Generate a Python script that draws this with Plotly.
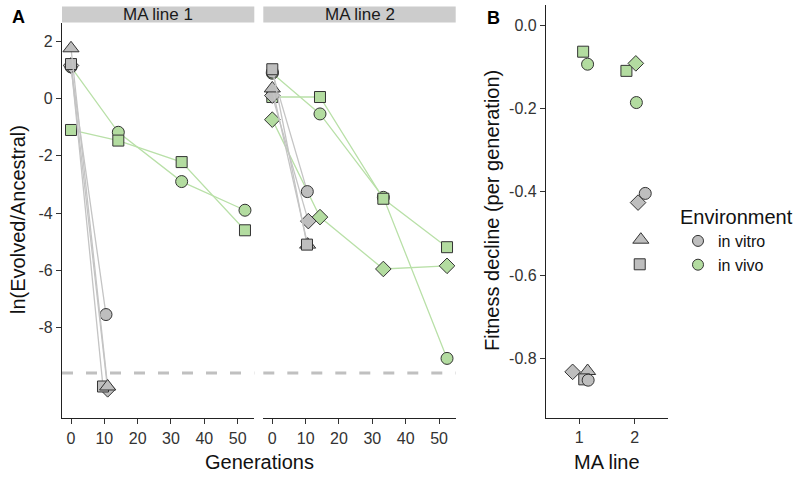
import plotly.graph_objects as go

# ---- data ----
# Panel A: ln(Evolved/Ancestral) by generation, one lineage per shape
vitro1_circle_gen = [0, 10.5]
vitro1_circle_val = [1.12, -7.54]
vitro1_square_gen = [0, 9.6]
vitro1_square_val = [1.2, -10.05]
vitro1_triangle_gen = [0, 11]
vitro1_triangle_val = [1.75, -10.05]
vitro1_diamond_gen = [0, 11]
vitro1_diamond_val = [1.15, -10.15]

vitro2_circle_gen = [0, 10.5]
vitro2_circle_val = [0.92, -3.25]
vitro2_square_gen = [0, 10.4]
vitro2_square_val = [1.02, -5.1]
vitro2_triangle_gen = [0, 10.6]
vitro2_triangle_val = [0.35, -5.1]
vitro2_diamond_gen = [0, 10.8]
vitro2_diamond_val = [0.1, -4.28]

vivo1_circle_gen = [0, 14.2, 33.2, 52.2]
vivo1_circle_val = [1.1, -1.18, -2.9, -3.9]
vivo1_square_gen = [0, 14.2, 33.2, 52.2]
vivo1_square_val = [-1.1, -1.47, -2.22, -4.6]

vivo2_circle_gen = [0, 14.3, 33.3, 52.4]
vivo2_circle_val = [0.88, -0.54, -3.45, -9.07]
vivo2_square_gen = [0, 14.3, 33.3, 52.4]
vivo2_square_val = [0.05, 0.05, -3.5, -5.19]
vivo2_diamond_gen = [0, 14.3, 33.3, 52.4]
vivo2_diamond_val = [-0.74, -4.14, -5.95, -5.84]

detection_limit = -9.58

# Panel B: fitness decline per generation (MA line + jitter offset)
vitro_b_shape = ["diamond", "triangle-up", "square", "circle",
                 "circle", "diamond", "triangle-up", "square"]
vitro_b_line = [1, 1, 1, 1, 2, 2, 2, 2]
vitro_b_jit = [-0.12, 0.15, 0.09, 0.16, 0.19, 0.06, 0.11, 0.09]
vitro_b_val = [-0.832, -0.83, -0.85, -0.852, -0.404, -0.426, -0.515, -0.574]

vivo_b_shape = ["square", "circle", "square", "diamond", "circle"]
vivo_b_line = [1, 1, 2, 2, 2]
vivo_b_jit = [0.07, 0.15, -0.15, 0.02, 0.03]
vivo_b_val = [-0.064, -0.094, -0.11, -0.092, -0.186]

ya_ticks = [2, 0, -2, -4, -6, -8]
ya_text = ["2", "0", "-2", "-4", "-6", "-8"]
yb_ticks = [0, -0.2, -0.4, -0.6, -0.8]
yb_text = ["0.0", "-0.2", "-0.4", "-0.6", "-0.8"]
gen_ticks = [0, 10, 20, 30, 40, 50]

GRAY = "#bebebe"
GREEN = "#b3dca0"
GRAY_LINE = "#c4c4c4"
GREEN_LINE = "#b9e0a8"
EDGE = "#333333"
FONT = "Liberation Sans"

size = {"circle": 12, "square": 11, "diamond": 12, "triangle-up": 14}

fig = go.Figure()


def lineage(gen, val, shape, fill, line_col, xa):
    fig.add_trace(go.Scatter(
        x=gen, y=val, mode="lines+markers", xaxis=xa, yaxis="y" if xa == "x" else "y2",
        line=dict(color=line_col, width=1.3),
        marker=dict(symbol=shape, size=size[shape], color=fill, opacity=1, line=dict(color=EDGE, width=1)),
        showlegend=False, hoverinfo="skip"))


# in vivo first, in vitro on top
lineage(vivo1_circle_gen, vivo1_circle_val, "circle", GREEN, GREEN_LINE, "x")
lineage(vivo1_square_gen, vivo1_square_val, "square", GREEN, GREEN_LINE, "x")
lineage(vivo2_circle_gen, vivo2_circle_val, "circle", GREEN, GREEN_LINE, "x2")
lineage(vivo2_square_gen, vivo2_square_val, "square", GREEN, GREEN_LINE, "x2")
lineage(vivo2_diamond_gen, vivo2_diamond_val, "diamond", GREEN, GREEN_LINE, "x2")

lineage(vitro1_circle_gen, vitro1_circle_val, "circle", GRAY, GRAY_LINE, "x")
lineage(vitro1_diamond_gen, vitro1_diamond_val, "diamond", GRAY, GRAY_LINE, "x")
lineage(vitro1_square_gen, vitro1_square_val, "square", GRAY, GRAY_LINE, "x")
lineage(vitro1_triangle_gen, vitro1_triangle_val, "triangle-up", GRAY, GRAY_LINE, "x")
lineage(vitro2_diamond_gen, vitro2_diamond_val, "diamond", GRAY, GRAY_LINE, "x2")
lineage(vitro2_circle_gen, vitro2_circle_val, "circle", GRAY, GRAY_LINE, "x2")
lineage(vitro2_triangle_gen, vitro2_triangle_val, "triangle-up", GRAY, GRAY_LINE, "x2")
lineage(vitro2_square_gen, vitro2_square_val, "square", GRAY, GRAY_LINE, "x2")

# panel B (size is an array, so force full opacity)
fig.add_trace(go.Scatter(
    x=[l + j for l, j in zip(vivo_b_line, vivo_b_jit)], y=vivo_b_val, mode="markers",
    xaxis="x3", yaxis="y3", showlegend=False, hoverinfo="skip",
    marker=dict(symbol=vivo_b_shape, size=[size[s] for s in vivo_b_shape], color=GREEN, opacity=1,
                line=dict(color=EDGE, width=1))))
fig.add_trace(go.Scatter(
    x=[l + j for l, j in zip(vitro_b_line, vitro_b_jit)], y=vitro_b_val, mode="markers",
    xaxis="x3", yaxis="y3", showlegend=False, hoverinfo="skip",
    marker=dict(symbol=vitro_b_shape, size=[size[s] for s in vitro_b_shape], color=GRAY, opacity=1,
                line=dict(color=EDGE, width=1))))

# legend entries
for name, col in [("in vitro", GRAY), ("in vivo", GREEN)]:
    fig.add_trace(go.Scatter(
        x=[None], y=[None], mode="markers", name=name, xaxis="x3", yaxis="y3",
        marker=dict(symbol="circle", size=11, color=col, line=dict(color=EDGE, width=1))))

W, H = 800, 482


def px(x):
    return x / W


def py(y):
    return (H - y) / H


axis_common = dict(showgrid=False, zeroline=False, showline=True, linecolor="#222222", linewidth=1.2,
                   ticks="outside", ticklen=5, tickcolor="#333333", tickwidth=1.1, automargin=False,
                   tickfont=dict(size=16, color="#333333"))

fig.update_layout(
    width=W, height=H, margin=dict(l=0, r=0, t=0, b=0, autoexpand=False),
    plot_bgcolor="white", paper_bgcolor="white",
    font=dict(family=FONT, color="#111111"),
    xaxis=dict(domain=[px(62), px(254.3)], range=[-2.7, 55], tickvals=gen_ticks, anchor="y", **axis_common),
    xaxis2=dict(domain=[px(263.3), px(455.7)], range=[-2.7, 55], tickvals=gen_ticks, anchor="y2", **axis_common),
    yaxis=dict(domain=[py(418.3), py(22.5)], range=[-11.16, 2.65], tickvals=ya_ticks, ticktext=ya_text,
               anchor="x", **axis_common),
    yaxis2=dict(domain=[py(418.3), py(22.5)], range=[-11.16, 2.65], showticklabels=False, showline=False,
                ticks="", showgrid=False, zeroline=False, anchor="x2", automargin=False),
    xaxis3=dict(domain=[px(546), px(668)], range=[0.4, 2.6], tickvals=[1, 2], anchor="y3", **axis_common),
    yaxis3=dict(domain=[py(417.7), py(5)], range=[-0.942, 0.048], tickvals=yb_ticks, ticktext=yb_text,
                anchor="x3", **axis_common),
    legend=dict(x=px(678), y=py(198), xanchor="left", yanchor="top",
                title=dict(text="Environment", font=dict(size=20, color="#111111")),
                font=dict(size=16, color="#111111"), itemwidth=30, tracegroupgap=0),
)

# detection limit dashed line
for xa, ya in [("x", "y"), ("x2", "y2")]:
    fig.add_shape(type="line", xref=xa + " domain", yref=ya, x0=0, x1=1,
                  y0=detection_limit, y1=detection_limit,
                  line=dict(color="#c0c0c0", width=3, dash="11px,13px"), layer="below")

# facet strips
for xa, label in [("x", "MA line 1"), ("x2", "MA line 2")]:
    fig.add_shape(type="rect", xref=xa + " domain", yref="paper", x0=0, x1=1,
                  y0=py(22.5), y1=py(6.5), fillcolor="#cccccc", line=dict(width=0))
    fig.add_annotation(xref=xa + " domain", yref="paper", x=0.5, y=py(14.5), text=label,
                       xanchor="center", yanchor="middle",
                       showarrow=False, font=dict(size=17, color="#1a1a1a"))


def label(x, y, text, fs, angle=0, color="#111111"):
    fig.add_annotation(xref="paper", yref="paper", x=px(x), y=py(y), text=text, textangle=angle,
                       xanchor="center", yanchor="middle", showarrow=False,
                       font=dict(size=fs, color=color))


label(18, 220, "ln(Evolved/Ancestral)", 20, -90)
label(259, 462, "Generations", 20)
label(492, 211, "Fitness decline (per generation)", 20, -90)
label(607, 462, "MA line", 20)
label(18.5, 17.5, "<b>A</b>", 18, color="black")
label(493, 18, "<b>B</b>", 18, color="black")

# page body has a default margin; drop it so the figure sits at the top-left corner
fig.write_html("out.html", config={"displayModeBar": False},
               post_script="document.body.style.margin='0';")
